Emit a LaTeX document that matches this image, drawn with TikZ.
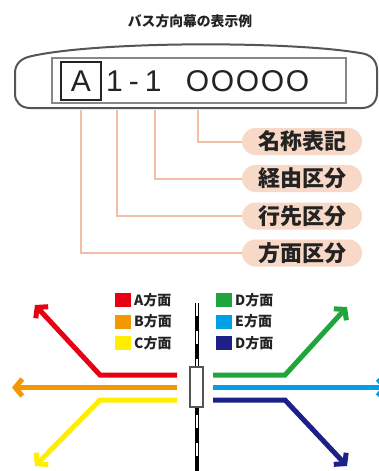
\documentclass[tikz,border=0pt]{standalone}
\usepackage{fontspec}
\setmainfont{Liberation Sans}
\newfontfamily\jpfont{Noto Sans CJK JP}
\newfontfamily\dispfont{Liberation Sans}
\usetikzlibrary{arrows.meta}
\definecolor{cred}{RGB}{230,0,18}
\definecolor{corange}{RGB}{243,152,0}
\definecolor{cyellow}{RGB}{255,238,0}
\definecolor{cgreen}{RGB}{30,165,60}
\definecolor{cblue}{RGB}{0,160,233}
\definecolor{cnavy}{RGB}{29,32,136}
\definecolor{peach}{RGB}{248,216,198}
\definecolor{peachline}{RGB}{242,190,165}
\definecolor{ink}{RGB}{35,35,35}
\definecolor{busgray}{RGB}{85,85,85}
\definecolor{screengray}{RGB}{135,135,135}
\begin{document}
\begin{tikzpicture}[x=1pt,y=-1pt,
  busline/.style={draw=busgray,line width=2pt},
  screenbox/.style={draw=screengray,line width=1.2pt,minimum width=294pt,minimum height=45pt,inner sep=0pt},
  disptext/.style={font=\dispfont\fontsize{30}{30}\selectfont,text=ink,inner sep=0pt},
  abox/.style={disptext,draw=ink,line width=1.2pt,minimum width=40pt,minimum height=38pt},
  labelbox/.style={fill=peach,rounded corners=13.5pt,minimum width=120pt,minimum height=27pt,inner sep=0pt,
    font=\jpfont\bfseries\fontsize{22}{22}\selectfont,text=ink},
  conn/.style={draw=peachline,line width=2pt},
  titletext/.style={font=\jpfont\bfseries\fontsize{13.8}{14}\selectfont,text=ink,inner sep=0pt},
  legsq/.style={minimum width=16pt,minimum height=14pt,inner sep=0pt},
  legtext/.style={font=\jpfont\bfseries\fontsize{14}{14}\selectfont,text=ink,inner sep=0pt,anchor=west},
  route/.style={line width=5pt,-{Straight Barb[length=7pt,width=17pt]}},
  routeend/.style={line width=5pt},
  station/.style={draw=busgray,fill=white,line width=1.2pt,minimum width=13pt,minimum height=40pt,inner sep=0pt}
]
\useasboundingbox (0,0) rectangle (379,471);
\fill[white] (0,0) rectangle (379,471);
\clip (0,0) rectangle (379,471);

% title
\node[titletext] (title) at (190,21) {バス方向幕の表示例};

% bus destination display
\draw[busline] (30,108) -- (362,108) .. controls (371,108) and (377,102) .. (377,93) -- (377,70)
  .. controls (377,60) and (370,54) .. (360,53) .. controls (290,41) and (100,41) .. (32,56)
  .. controls (21,58) and (15,64) .. (15,73) -- (15,94) .. controls (15,102) and (21,108) .. (30,108) -- cycle;
\node[screenbox] (screen) at (199,80.5) {};
\node[abox] (A) at (81,81) {A};
\node[disptext,anchor=base west] (num) at (106,91.7) {1\kern6pt-\kern6pt1};
\node[disptext,anchor=base west] (name) at (185.6,91.7) {O\kern1.7pt O\kern1.7pt O\kern1.7pt O\kern1.7pt O};

% labels
\node[labelbox] (lab1) at (302,141.5) {名称表記};
\node[labelbox] (lab2) at (302,178.5) {経由区分};
\node[labelbox] (lab3) at (302,216) {行先区分};
\node[labelbox] (lab4) at (302,253) {方面区分};

\coordinate (s1) at (198,110);
\coordinate (s2) at (155,110);
\coordinate (s3) at (117,110);
\coordinate (s4) at (81,110);
\draw[conn] (s1) |- (lab1);
\draw[conn] (s2) |- (lab2);
\draw[conn] (s3) |- (lab3);
\draw[conn] (s4) |- (lab4);

% legend
\node[legsq,fill=cred] (sqA) at (123,300) {};
\node[legsq,fill=corange] (sqB) at (123,321.5) {};
\node[legsq,fill=cyellow] (sqC) at (123,343) {};
\node[legtext] (tA) at (134,300) {A方面};
\node[legtext] (tB) at (134,321.5) {B方面};
\node[legtext] (tC) at (134,343) {C方面};
\node[legsq,fill=cgreen] (sqD) at (224,300) {};
\node[legsq,fill=cblue] (sqE) at (224,321.5) {};
\node[legsq,fill=cnavy] (sqF) at (224,343) {};
\node[legtext] (tD) at (235,300) {D方面};
\node[legtext] (tE) at (235,321.5) {E方面};
\node[legtext] (tF) at (235,343) {D方面};

% railway and station
\coordinate (railtop) at (197,303);
\coordinate (railbot) at (197,475);
\draw[line width=4pt,black] (railtop) -- (railbot);
\draw[line width=2.2pt,white,dash pattern=on 13pt off 15pt] (railtop) -- (railbot);
\node[station] (st) at (196.5,387) {};

% routes, left
\coordinate (rA0) at (177,375); \coordinate (rA1) at (100,375); \coordinate (rA2) at (35,305);
\coordinate (rB0) at (177,387.5); \coordinate (rB2) at (12,387.5);
\coordinate (rC0) at (177,400); \coordinate (rC1) at (100,400); \coordinate (rC2) at (35,466);
\draw[route,cred] (rA0) -- (rA1) -- (rA2);
\draw[route,corange] (rB0) -- (rB2);
\draw[route,cyellow] (rC0) -- (rC1) -- (rC2);
% routes, right
\coordinate (rD0) at (213,375); \coordinate (rD1) at (285,375); \coordinate (rD2) at (347,307);
\coordinate (rE0) at (213,387.5); \coordinate (rE2) at (388,387.5);
\coordinate (rF0) at (213,400); \coordinate (rF1) at (285,400); \coordinate (rF2) at (347,466);
\draw[route,cgreen] (rD0) -- (rD1) -- (rD2);
\draw[route,cblue] (rE0) -- (rE2);
\draw[route,cnavy] (rF0) -- (rF1) -- (rF2);
\end{tikzpicture}
\end{document}
